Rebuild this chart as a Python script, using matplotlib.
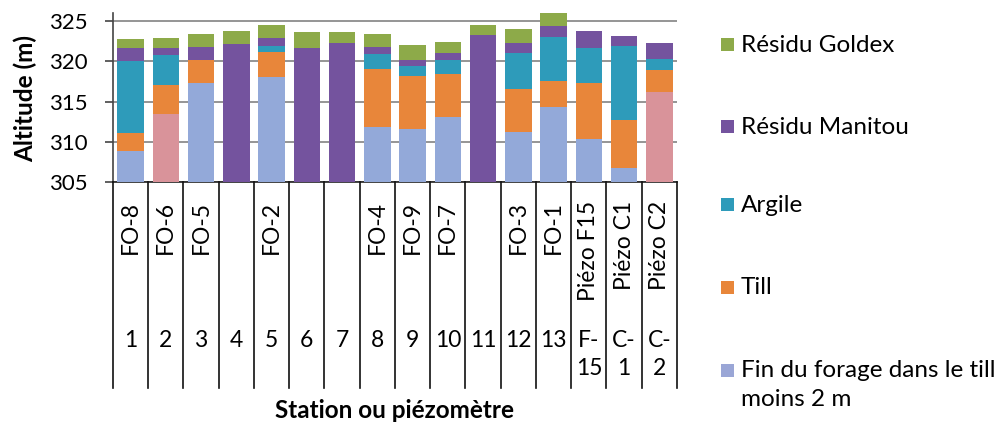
import matplotlib
matplotlib.use("Agg")
import matplotlib.pyplot as plt
from matplotlib.patches import Rectangle
import numpy as np

plt.rcParams['font.family'] = ['Lato', 'DejaVu Sans']

# ---- data ----
stations = ["FO-8", "FO-6", "FO-5", "", "FO-2", "", "", "FO-4", "FO-9", "FO-7",
            "", "FO-3", "FO-1", "Piézo F15", "Piézo C1", "Piézo C2"]
numbers = ["1", "2", "3", "4", "5", "6", "7", "8", "9", "10", "11", "12", "13",
           "F-\n15", "C-\n1", "C-\n2"]
series_names = ["Fin du forage dans le till\nmoins 2 m", "Till", "Argile",
                "Résidu Manitou", "Résidu Goldex"]
fin = [308.9, 313.4, 317.3, 305.0, 318.0, 305.0, 305.0, 311.8, 311.6, 313.1,
       305.0, 311.2, 314.3, 310.3, 306.8, 316.2]
till = [2.2, 3.7, 2.9, 0.0, 3.1, 0.0, 0.0, 7.2, 6.6, 5.3, 0.0, 5.4, 3.3, 7.0, 5.9, 2.7]
argile = [8.9, 3.7, 0.0, 0.0, 0.75, 0.0, 0.0, 1.9, 1.2, 1.7, 0.0, 4.4, 5.4, 4.3, 9.25, 1.4]
manitou = [1.6, 0.9, 1.6, 17.1, 1.1, 16.7, 17.3, 0.9, 0.8, 0.95, 18.3, 1.3, 1.4, 2.15, 1.15, 2.0]
goldex = [1.2, 1.2, 1.65, 1.65, 1.6, 2.0, 1.3, 1.6, 1.85, 1.4, 1.2, 1.7, 1.7, 0.0, 0.0, 0.0]
pink_bars = [1, 15]  # bars whose bottom segment is drawn in pink

# ---- styles ----
c_fin = '#93A9D9'
c_pink = '#D9939A'
colors = [c_fin, '#E8863A', '#2E9BBA', '#74539E', '#8DAA49']

W, H = 1003, 423
fig = plt.figure(figsize=(W / 100, H / 100), dpi=100)
ax_l, ax_r, ax_t, ax_b = 113, 677, 13, 182
ax = fig.add_axes([ax_l / W, 1 - ax_b / H, (ax_r - ax_l) / W, (ax_b - ax_t) / H])

x = np.arange(len(stations))
layers = [fin, till, argile, manitou, goldex]
bottom = np.zeros(len(x))
for i, (vals, col) in enumerate(zip(layers, colors)):
    cols = [col] * len(x)
    if i == 0:
        for k in pink_bars:
            cols[k] = c_pink
    ax.bar(x, vals, bottom=bottom, width=0.75, color=cols, zorder=3, linewidth=0)
    bottom = bottom + np.array(vals)

ax.set_xlim(-0.5, len(x) - 0.5)
ax.set_ylim(305, 326)
ax.set_yticks([305, 310, 315, 320, 325])
ax.tick_params(axis='y', direction='out', length=6, width=1.2, color='#444444',
               labelsize=16, pad=12)
ax.set_xticks([])
ax.yaxis.grid(True, color='#8c8c8c', linewidth=1.3, zorder=0)
ax.set_axisbelow(True)
for s in ['top', 'right']:
    ax.spines[s].set_visible(False)
ax.spines['left'].set_color('#444444')
ax.spines['left'].set_linewidth(1.2)
ax.spines['bottom'].set_color('#222222')
ax.spines['bottom'].set_linewidth(1.2)

# category separators and labels
axh = ax_b - ax_t
trans = ax.get_xaxis_transform()
sep_bottom = -(388 - ax_b) / axh
for k in range(len(x) + 1):
    ax.plot([k - 0.5, k - 0.5], [0, sep_bottom], transform=trans, color='#111111',
            linewidth=1.2, clip_on=False, zorder=5)
for xi, st, nb in zip(x, stations, numbers):
    if st:
        ax.text(xi, -(201 - ax_b) / axh, st, transform=trans, rotation=90,
                ha='center', va='top', fontsize=16.5)
    ax.text(xi, -(330 - ax_b) / axh, nb, transform=trans, ha='center', va='top',
            fontsize=16.5, linespacing=1.4)

fig.text(25 / W, 1 - 98 / H, "Altitude (m)", rotation=90, ha='center', va='center',
         fontsize=17.5, fontweight='bold')
fig.text(395 / W, 1 - 410 / H, "Station ou piézomètre", ha='center', va='center',
         fontsize=17.5, fontweight='bold')

# legend (top to bottom: Goldex ... Fin)
leg_y = [45, 127, 205, 287, 370]
leg_cols = colors[::-1]
leg_cols[-1] = '#9AA6D6'
for yy, name, col in zip(leg_y, series_names[::-1], leg_cols):
    fig.add_artist(Rectangle((721 / W, 1 - (yy + 6.5) / H), 13 / W, 13 / H,
                             transform=fig.transFigure, color=col, linewidth=0))
    fig.text(741 / W, 1 - (yy - 10) / H, name, ha='left', va='top', fontsize=17.5,
             linespacing=1.45)

fig.savefig("out.png", dpi=100)
